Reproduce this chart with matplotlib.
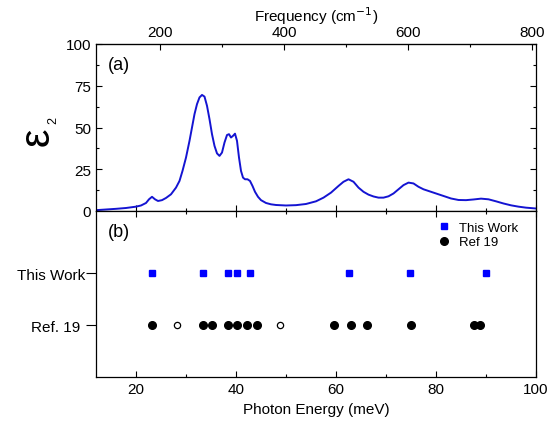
import numpy as np
import matplotlib
matplotlib.use("Agg")
from matplotlib import pyplot as plt
from matplotlib.ticker import MultipleLocator, FixedLocator

plt.rcParams['font.family'] = ['Liberation Sans', 'DejaVu Sans']

# eps2 spectrum
energy = [12, 14, 16, 18, 20, 21, 22, 22.6, 23.2, 23.8, 24.4, 25.2, 26, 27, 28, 28.7, 29.3, 30,
          30.7, 31.2, 31.7, 32.2, 32.7, 33.2, 33.7, 34.2, 34.7, 35.2, 35.7, 36.2, 36.7, 37.2, 37.7,
          38.2, 38.6, 39.0, 39.4, 39.8, 40.2, 40.6, 41.0, 41.4, 41.8, 42.3, 42.8, 43.3, 43.8, 44.4,
          45, 46, 47, 48, 50, 52, 54, 56, 57.5, 59, 60.5, 61.5, 62.5, 63.5, 64.5, 65.5, 66.5, 67.5,
          68.5, 69.5, 70.5, 71.5, 72.5, 73.5, 74.5, 75.5, 76.5, 77.5, 78.5, 80, 81.5, 83, 84.5, 86,
          87.5, 89, 90.5, 92, 93.5, 95, 96.5, 98, 100]
eps2 = [0.5, 0.9, 1.3, 1.8, 2.6, 3.3, 4.8, 7.0, 8.5, 7.0, 6.0, 6.5, 7.8, 10, 14, 18, 24, 32,
        42, 50, 58, 64, 68, 69.5, 68.5, 63, 55, 46, 39, 34.5, 33, 35, 41,
        45.5, 46, 44, 45, 46.3, 42, 32, 24, 20, 19, 19, 18, 15, 11.5, 8.5,
        6.5, 4.8, 4.0, 3.6, 3.3, 3.5, 4.2, 5.8, 8, 11, 15, 17.5, 19, 17.5, 14, 11.5, 9.8, 8.7,
        8.0, 8.0, 8.8, 10.5, 13, 15.5, 17, 16.5, 14.5, 13, 12, 10.5, 9, 7.5, 6.6, 6.5,
        6.9, 7.4, 7.0, 5.8, 4.5, 3.4, 2.6, 2.0, 1.5]

# mode energies (meV) for panel (b)
this_work = [23.1, 33.3, 38.4, 40.1, 42.7, 62.6, 74.8, 89.9]
ref19_filled = [23.2, 33.3, 35.2, 38.4, 40.1, 42.2, 44.1, 59.6, 62.9, 66.2, 74.9, 87.5, 88.7]
ref19_open = [28.1, 48.8]
row_labels = ["Ref. 19 ", "This Work"]

MEV_TO_CM = 8.0655

fig = plt.figure(figsize=(5.51, 4.27), dpi=100)
ax1 = fig.add_axes([96/551, 1-212/427, 440/551, 167/427])
ax2 = fig.add_axes([96/551, 1-378.3/427, 440/551, 166.3/427])

# panel (a)
ax1.plot(energy, eps2, color="#1414d2", lw=1.4)
ax1.set_xlim(12, 100)
ax1.set_ylim(0, 100)
ax1.xaxis.set_major_locator(MultipleLocator(20))
ax1.xaxis.set_minor_locator(MultipleLocator(10))
ax1.yaxis.set_major_locator(MultipleLocator(25))
ax1.yaxis.set_minor_locator(MultipleLocator(12.5))
ax1.tick_params(axis='x', which='both', direction='in', bottom=True, top=False, labelbottom=False)
ax1.tick_params(axis='y', which='both', direction='in', left=True, right=True, labelsize=11)
ax1.tick_params(which='major', length=4.5, width=0.8)
ax1.tick_params(which='minor', length=2.5, width=0.8)
ax1.text(0.027, 0.88, "(a)", transform=ax1.transAxes, fontsize=13, va='center', ha='left')

top = ax1.secondary_xaxis('top', functions=(lambda e: e*MEV_TO_CM, lambda f: f/MEV_TO_CM))
top.xaxis.set_major_locator(FixedLocator([200, 400, 600, 800]))
top.xaxis.set_minor_locator(FixedLocator([300, 500, 700]))
top.tick_params(which='both', direction='in', labelsize=11, width=0.8)
top.tick_params(which='major', length=4.5)
top.tick_params(which='minor', length=2.5)
top.set_xlabel("Frequency (cm$^{-1}$)", fontsize=11, labelpad=3)

# y label: large epsilon with small subscript 2
fig.text(0.068, 0.68, "\u03b5", rotation=90, fontsize=30, ha='center', va='center')
fig.text(0.097, 0.718, "2", rotation=90, fontsize=9, ha='center', va='center')

# panel (b)
ax2.plot(this_work, [2]*len(this_work), 's', color="#0000ff", ms=5, label="This Work", ls='none')
ax2.plot(ref19_filled, [1]*len(ref19_filled), 'o', color="black", ms=5.5, label="Ref 19", ls='none')
ax2.plot(ref19_open, [1]*len(ref19_open), 'o', mfc='white', mec='black', mew=0.9, ms=4.5, ls='none')
ax2.set_xlim(12, 100)
ax2.set_ylim(0, 3.2)
ax2.xaxis.set_major_locator(MultipleLocator(20))
ax2.xaxis.set_minor_locator(MultipleLocator(10))
ax2.tick_params(axis='x', which='both', direction='in', bottom=True, top=True, labelsize=11, width=0.8)
ax2.tick_params(axis='x', which='major', length=4.5)
ax2.tick_params(axis='x', which='minor', length=2.5)
ax2.set_yticks([1, 2])
ax2.set_yticklabels(row_labels)
ax2.tick_params(axis='y', direction='out', length=7, width=0.8, labelsize=11, pad=1)
ax2.set_xlabel("Photon Energy (meV)", fontsize=11, labelpad=4)
ax2.text(0.027, 0.874, "(b)", transform=ax2.transAxes, fontsize=13, va='center', ha='left')
ax2.legend(loc='upper left', bbox_to_anchor=(0.76, 0.97), frameon=False, fontsize=9.5,
           handletextpad=0.6, labelspacing=0.2, borderaxespad=0, handlelength=1.2)

for ax in (ax1, ax2):
    for s in ax.spines.values():
        s.set_linewidth(0.9)

plt.savefig("out.png", dpi=100)
